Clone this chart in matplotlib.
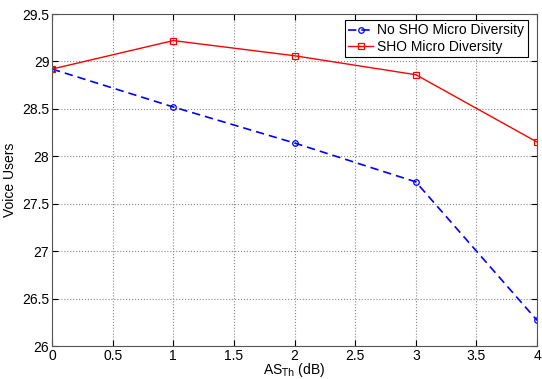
import numpy as np
import matplotlib
matplotlib.use('Agg')
import matplotlib.pyplot as plt

plt.rcParams['font.family'] = ['Liberation Sans', 'DejaVu Sans']

as_th = [0, 1, 2, 3, 4]
no_sho = [28.92, 28.52, 28.14, 27.73, 26.27]
sho = [28.92, 29.22, 29.06, 28.86, 28.15]

fig = plt.figure(figsize=(5.42, 3.79), dpi=100)
ax = fig.add_axes([0.096, 0.087, 0.895, 0.876])

ax.plot(as_th, no_sho, color='blue', linestyle='--', linewidth=1.2, dashes=(5, 3),
        marker='o', markersize=4, markerfacecolor='none', markeredgewidth=0.9,
        label='No SHO Micro Diversity')
ax.plot(as_th, sho, color='red', linestyle='-', linewidth=1.0,
        marker='s', markersize=5, markerfacecolor='none', markeredgewidth=0.9,
        label='SHO Micro Diversity')

ax.set_xlim(0, 4)
ax.set_ylim(26, 29.5)
ax.set_xticks(np.arange(0, 4.01, 0.5))
ax.set_xticklabels(['0', '0.5', '1', '1.5', '2', '2.5', '3', '3.5', '4'])
ax.set_yticks(np.arange(26, 29.51, 0.5))
ax.set_yticklabels(['26', '26.5', '27', '27.5', '28', '28.5', '29', '29.5'])
ax.grid(True, linestyle=':', color='#888888', linewidth=0.8)
ax.tick_params(direction='in', labelsize=10, length=4, top=True, right=True, pad=2)
for s in ax.spines.values():
    s.set_color('#555555')
    s.set_linewidth(0.8)

ax.set_xlabel('AS$_{\\mathrm{Th}}$ (dB)', fontsize=10, labelpad=-1)
ax.set_ylabel('Voice Users', fontsize=10, labelpad=4)

leg = ax.legend(loc='upper right', bbox_to_anchor=(0.981, 0.982), fontsize=10,
                fancybox=False, framealpha=1, edgecolor='black', borderaxespad=0,
                handlelength=1.8, handletextpad=0.3, borderpad=0.25, labelspacing=0.15)
leg.get_frame().set_linewidth(0.8)

fig.savefig('out.png', dpi=100)
